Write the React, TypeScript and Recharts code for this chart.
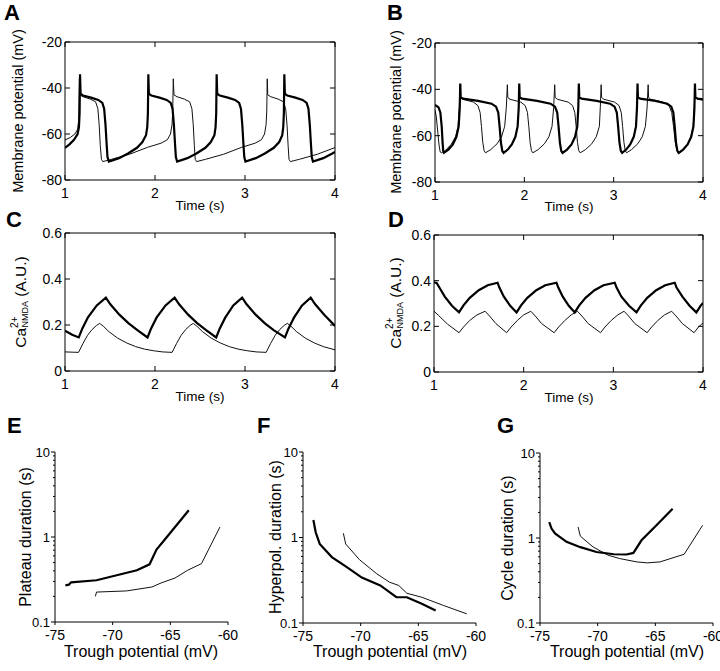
import React from 'react';
import { LineChart, Line, XAxis, YAxis } from 'recharts';

type Pt = [number, number];

const timeTicks = [1, 2, 3, 4];
const vmTicks = [-80, -60, -40, -20];
const caTicks = [0, 0.2, 0.4, 0.6];
const troughTicks = [-75, -70, -65, -60];
const durTicks = [0.1, 0.2, 0.3, 0.4, 0.5, 0.6, 0.7, 0.8, 0.9, 1, 2, 3, 4, 5, 6, 7, 8, 9, 10];
const durLabels = [0.1, 1, 10];

// A: membrane potential, thick and thin traces
const aThick: Pt[] = [
  [1.0, -66], [1.05, -64.5], [1.1, -62.5], [1.14, -60], [1.155, -57], [1.162, -51], [1.167, -34],
  [1.173, -42.5], [1.2, -43.3], [1.29, -44.2], [1.37, -45.2], [1.415, -46.5], [1.435, -49], [1.45, -56],
  [1.462, -64], [1.472, -70], [1.487, -72],
  [1.6, -70.5], [1.7, -68.5], [1.8, -66], [1.86, -63.5], [1.9, -60.5], [1.914, -57], [1.921, -51], [1.926, -34],
  [1.932, -42.5], [1.96, -43.3], [2.05, -44.2], [2.13, -45.2], [2.175, -46.5], [2.195, -49], [2.21, -56],
  [2.222, -64], [2.232, -70], [2.246, -72],
  [2.36, -70.5], [2.46, -68.5], [2.56, -66], [2.62, -63.5], [2.66, -60.5], [2.673, -57], [2.68, -51], [2.685, -34],
  [2.691, -42.5], [2.72, -43.3], [2.81, -44.2], [2.89, -45.2], [2.935, -46.5], [2.955, -49], [2.97, -56],
  [2.982, -64], [2.992, -70], [3.005, -72],
  [3.12, -70.5], [3.22, -68.5], [3.32, -66], [3.38, -63.5], [3.414, -60.5], [3.425, -57], [3.432, -51], [3.437, -34],
  [3.443, -42.5], [3.47, -43.3], [3.56, -44.2], [3.64, -45.2], [3.685, -46.5], [3.705, -49], [3.72, -56],
  [3.732, -64], [3.742, -70], [3.755, -72],
  [3.87, -70.5], [3.97, -68.5], [4.0, -67.8],
];

const aThin: Pt[] = [
  [1.0, -62.6], [1.06, -61.5], [1.11, -60], [1.14, -58], [1.152, -54], [1.16, -36],
  [1.166, -43], [1.2, -43.8], [1.28, -44.8], [1.34, -46], [1.365, -49], [1.38, -56], [1.392, -65], [1.405, -71], [1.42, -72],
  [1.517, -71], [1.717, -68.8], [1.917, -65.8], [2.067, -64], [2.137, -62.5], [2.172, -60], [2.189, -56], [2.197, -50], [2.203, -36],
  [2.211, -43], [2.245, -43.8], [2.325, -44.8], [2.385, -46], [2.41, -49], [2.425, -56], [2.437, -65], [2.447, -71], [2.462, -72],
  [2.562, -71], [2.762, -68.8], [2.962, -65.8], [3.112, -64], [3.182, -62.5], [3.217, -60], [3.234, -56], [3.242, -50], [3.247, -36],
  [3.253, -43], [3.287, -43.8], [3.367, -44.8], [3.427, -46], [3.452, -49], [3.467, -56], [3.479, -65], [3.489, -71], [3.504, -72],
  [3.604, -71], [3.804, -68.8], [4.0, -65.9],
];

// B: membrane potential, second condition
const bThick: Pt[] = [
  [1.0, -46.7], [1.04, -47.8], [1.06, -50], [1.075, -56], [1.085, -63], [1.092, -66.5], [1.1, -67.4],
  [1.15, -66], [1.2, -63.8], [1.24, -60.5], [1.265, -56], [1.277, -48], [1.283, -37.5],
  [1.288, -43.5], [1.313, -44], [1.483, -45], [1.633, -46.2], [1.683, -47.5], [1.708, -50], [1.723, -56], [1.738, -63], [1.753, -66.5], [1.768, -67.4],
  [1.815, -66], [1.86, -63.8], [1.9, -60.5], [1.925, -56], [1.937, -48], [1.943, -37.5],
  [1.948, -43.5], [1.973, -44], [2.143, -45], [2.293, -46.2], [2.343, -47.5], [2.368, -50], [2.383, -56], [2.398, -63], [2.413, -66.5], [2.428, -67.4],
  [2.478, -66], [2.528, -63.8], [2.568, -60.5], [2.593, -56], [2.604, -48], [2.61, -37.5],
  [2.615, -43.5], [2.64, -44], [2.81, -45], [2.96, -46.2], [3.01, -47.5], [3.035, -50], [3.05, -56], [3.065, -63], [3.08, -66.5], [3.095, -67.4],
  [3.14, -66], [3.185, -63.8], [3.225, -60.5], [3.25, -56], [3.261, -48], [3.267, -37.5],
  [3.272, -43.5], [3.297, -44], [3.467, -45], [3.6, -46.2], [3.645, -47.5], [3.668, -50], [3.683, -56], [3.698, -63], [3.713, -66.5], [3.728, -67.4],
  [3.778, -66], [3.828, -63.8], [3.868, -60.5], [3.893, -56], [3.904, -48], [3.91, -37.5],
  [3.915, -43.5], [3.94, -44], [4.0, -44.3],
];

const bThin: Pt[] = [
  [1.0, -48.8], [1.015, -52], [1.03, -58], [1.045, -64], [1.058, -67], [1.07, -67.4],
  [1.12, -66.3], [1.18, -63.8], [1.23, -60.5], [1.258, -56], [1.272, -48], [1.279, -38],
  [1.284, -43.5], [1.31, -44.3], [1.43, -45.5], [1.48, -47], [1.505, -50], [1.52, -56], [1.535, -63], [1.55, -66.5], [1.565, -67.4],
  [1.625, -66], [1.695, -63.5], [1.745, -60.5], [1.78, -56], [1.798, -48], [1.81, -38],
  [1.815, -43.5], [1.84, -44.3], [1.96, -45.5], [2.01, -47], [2.035, -50], [2.05, -56], [2.065, -63], [2.08, -66.5], [2.095, -67.4],
  [2.155, -66], [2.225, -63.5], [2.275, -60.5], [2.31, -56], [2.328, -48], [2.34, -38],
  [2.345, -43.5], [2.37, -44.3], [2.49, -45.5], [2.54, -47], [2.565, -50], [2.58, -56], [2.595, -63], [2.61, -66.5], [2.625, -67.4],
  [2.685, -66], [2.755, -63.5], [2.805, -60.5], [2.84, -56], [2.85, -48], [2.86, -38],
  [2.865, -43.5], [2.89, -44.3], [3.01, -45.5], [3.06, -47], [3.085, -50], [3.1, -56], [3.115, -63], [3.13, -66.5], [3.145, -67.4],
  [3.2, -66], [3.27, -63.5], [3.32, -60.5], [3.355, -56], [3.374, -48], [3.386, -38],
  [3.391, -43.5], [3.415, -44.3], [3.55, -45.5], [3.62, -47], [3.65, -50], [3.67, -56], [3.69, -63], [3.71, -66.5], [3.74, -67.4],
  [3.78, -66], [3.83, -63.5], [3.865, -60.5], [3.89, -56], [3.903, -48], [3.91, -38],
  [3.915, -43.5], [3.94, -44.3], [4.0, -44.6],
];

// C: NMDA calcium for A
const cThick: Pt[] = [
  [1.0, 0.175], [1.08, 0.158], [1.153, 0.146],
  [1.193, 0.185], [1.253, 0.232], [1.353, 0.285], [1.454, 0.319], [1.504, 0.29], [1.604, 0.245], [1.704, 0.208], [1.804, 0.178], [1.917, 0.146],
  [1.957, 0.185], [2.017, 0.232], [2.117, 0.285], [2.218, 0.319], [2.268, 0.29], [2.368, 0.245], [2.468, 0.208], [2.568, 0.178], [2.68, 0.146],
  [2.72, 0.185], [2.78, 0.232], [2.87, 0.285], [2.968, 0.319], [3.018, 0.29], [3.118, 0.245], [3.218, 0.208], [3.318, 0.178], [3.444, 0.146],
  [3.484, 0.185], [3.544, 0.232], [3.634, 0.285], [3.73, 0.319], [3.78, 0.29], [3.88, 0.245], [4.0, 0.196],
];

const cThin: Pt[] = [
  [1.0, 0.083], [1.15, 0.081], [1.2, 0.12], [1.25, 0.155], [1.3, 0.18], [1.35, 0.198], [1.385, 0.207],
  [1.425, 0.195], [1.485, 0.172], [1.585, 0.143], [1.685, 0.122], [1.785, 0.106], [1.885, 0.095], [1.985, 0.088], [2.085, 0.083], [2.19, 0.081],
  [2.24, 0.12], [2.29, 0.155], [2.34, 0.18], [2.39, 0.198], [2.425, 0.207],
  [2.465, 0.195], [2.525, 0.172], [2.625, 0.143], [2.725, 0.122], [2.825, 0.106], [2.925, 0.095], [3.025, 0.088], [3.125, 0.083], [3.235, 0.081],
  [3.285, 0.12], [3.335, 0.155], [3.385, 0.18], [3.435, 0.198], [3.47, 0.207],
  [3.51, 0.195], [3.57, 0.172], [3.67, 0.143], [3.77, 0.122], [3.87, 0.106], [4.0, 0.092],
];

// D: NMDA calcium for B
const dThick: Pt[] = [
  [1.0, 0.393], [1.03, 0.39], [1.06, 0.37], [1.12, 0.33], [1.2, 0.29], [1.279, 0.261],
  [1.329, 0.292], [1.399, 0.325], [1.499, 0.358], [1.599, 0.38], [1.709, 0.391],
  [1.729, 0.37], [1.779, 0.33], [1.85, 0.29], [1.921, 0.261],
  [1.971, 0.292], [2.041, 0.325], [2.141, 0.358], [2.241, 0.38], [2.366, 0.391],
  [2.386, 0.37], [2.436, 0.33], [2.503, 0.29], [2.57, 0.261],
  [2.62, 0.292], [2.69, 0.325], [2.79, 0.358], [2.89, 0.38], [3.016, 0.391],
  [3.036, 0.37], [3.09, 0.33], [3.175, 0.29], [3.258, 0.261],
  [3.308, 0.292], [3.378, 0.325], [3.478, 0.358], [3.578, 0.38], [3.685, 0.391],
  [3.705, 0.37], [3.77, 0.33], [3.85, 0.29], [3.926, 0.261],
  [3.976, 0.292], [4.0, 0.302],
];

const dThin: Pt[] = [
  [1.0, 0.266], [1.05, 0.248], [1.15, 0.21], [1.279, 0.172],
  [1.329, 0.197], [1.399, 0.226], [1.479, 0.25], [1.57, 0.266], [1.62, 0.245], [1.69, 0.212], [1.81, 0.172],
  [1.86, 0.197], [1.93, 0.226], [2.0, 0.25], [2.08, 0.266], [2.13, 0.245], [2.2, 0.212], [2.34, 0.172],
  [2.39, 0.197], [2.46, 0.226], [2.53, 0.25], [2.6, 0.266], [2.65, 0.245], [2.72, 0.212], [2.857, 0.172],
  [2.907, 0.197], [2.977, 0.226], [3.05, 0.25], [3.12, 0.266], [3.17, 0.245], [3.24, 0.212], [3.377, 0.172],
  [3.427, 0.197], [3.497, 0.226], [3.57, 0.25], [3.65, 0.266], [3.7, 0.245], [3.77, 0.212], [3.9, 0.172],
  [3.95, 0.197], [4.0, 0.215],
];

// E-G: durations vs trough potential
const eThick: Pt[] = [[-74.1, 0.27], [-73.8, 0.275], [-73.6, 0.293], [-71.4, 0.31], [-70, 0.345], [-67.9, 0.406], [-66.8, 0.477], [-66.2, 0.71], [-65.3, 1.0], [-63.4, 2.06]];
const eThin: Pt[] = [[-71.5, 0.2], [-71.4, 0.225], [-68.8, 0.232], [-66.6, 0.258], [-65.8, 0.288], [-64.6, 0.329], [-63.5, 0.406], [-62.3, 0.486], [-60.7, 1.31]];
const fThick: Pt[] = [[-74.1, 1.6], [-73.9, 1.15], [-73.55, 0.84], [-72.5, 0.59], [-71.2, 0.45], [-69.9, 0.34], [-68.3, 0.275], [-66.9, 0.2], [-66.0, 0.2], [-64.7, 0.168], [-63.5, 0.14]];
const fThin: Pt[] = [[-71.5, 1.12], [-71.3, 0.84], [-70.1, 0.55], [-68.6, 0.376], [-67.5, 0.3], [-66.7, 0.275], [-66.0, 0.223], [-64.7, 0.2], [-62.8, 0.16], [-60.8, 0.128]];
const gThick: Pt[] = [[-74.2, 1.54], [-74.0, 1.29], [-73.7, 1.13], [-72.7, 0.9], [-71.5, 0.78], [-70.1, 0.685], [-68.6, 0.644], [-67.5, 0.64], [-66.9, 0.667], [-66.2, 0.94], [-64.9, 1.41], [-63.5, 2.21]];
const gThin: Pt[] = [[-71.7, 1.35], [-71.5, 1.05], [-70.4, 0.785], [-69.1, 0.627], [-68.1, 0.573], [-66.6, 0.523], [-65.7, 0.51], [-64.6, 0.523], [-62.5, 0.644], [-60.9, 1.41]];

const FONT = '"Liberation Sans", Arial, Helvetica, sans-serif';
const rows = (pts: Pt[]) => pts.map(([x, y]) => ({ x, y }));

type Rect = { l: number; t: number; w: number; h: number };
type Side = 'left' | 'right' | 'top' | 'bottom';

// inward ticks, box style
const boxTick = (side: Side, labelled: boolean) => (p: any) => {
  const { x, y, payload } = p;
  const d = 5;
  let ln;
  if (side === 'left') ln = <line x1={x} y1={y} x2={x + d} y2={y} />;
  else if (side === 'right') ln = <line x1={x} y1={y} x2={x - d} y2={y} />;
  else if (side === 'bottom') ln = <line x1={x} y1={y} x2={x} y2={y - d} />;
  else ln = <line x1={x} y1={y} x2={x} y2={y + d} />;
  return (
    <g stroke="#000" strokeWidth={1}>
      {ln}
      {labelled && side === 'left' && (
        <text x={x - 3} y={y} dy="0.36em" textAnchor="end" stroke="none" fill="#000" fontSize={14} fontFamily={FONT}>
          {payload.value}
        </text>
      )}
      {labelled && side === 'bottom' && (
        <text x={x} y={y + 18} textAnchor="middle" stroke="none" fill="#000" fontSize={14} fontFamily={FONT}>
          {payload.value}
        </text>
      )}
    </g>
  );
};

// outward ticks, log panels
const logYTick = (p: any) => {
  const { x, y, payload } = p;
  const major = durLabels.includes(payload.value);
  return (
    <g>
      <line x1={x} y1={y} x2={x - (major ? 4 : 2)} y2={y} stroke="#000" />
      {major && (
        <text x={x - 5} y={y} dy="0.36em" textAnchor="end" fill="#000" fontSize={13} fontFamily={FONT}>
          {payload.value}
        </text>
      )}
    </g>
  );
};

const logXTick = (p: any) => {
  const { x, y, payload } = p;
  return (
    <g>
      <line x1={x} y1={y} x2={x} y2={y + 3} stroke="#000" />
      <text x={x} y={y + 18} textAnchor="middle" fill="#000" fontSize={14} fontFamily={FONT}>
        {payload.value}
      </text>
    </g>
  );
};

function TracePanel({ r, yDomain, yTicks, thick, thin }: { r: Rect; yDomain: [number, number]; yTicks: number[]; thick: Pt[]; thin: Pt[] }) {
  const W = r.w + 70;
  const H = r.h + 40;
  return (
    <div style={{ position: 'absolute', left: r.l - 60, top: r.t - 10, width: W, height: H }}>
      <LineChart width={W} height={H} margin={{ top: 9, right: 9, left: 0, bottom: 0 }}>
        <XAxis xAxisId="b" dataKey="x" type="number" domain={[1, 4]} ticks={timeTicks} allowDataOverflow
          height={30} tickSize={0} tickMargin={0} tickLine={false} interval={0}
          axisLine={{ stroke: '#000' }} tick={boxTick('bottom', true)} />
        <XAxis xAxisId="t" orientation="top" dataKey="x" type="number" domain={[1, 4]} ticks={timeTicks} allowDataOverflow
          height={1} tickSize={0} tickMargin={0} tickLine={false} interval={0}
          axisLine={{ stroke: '#000' }} tick={boxTick('top', false)} />
        <YAxis yAxisId="l" type="number" domain={yDomain} ticks={yTicks} allowDataOverflow
          width={60} tickSize={0} tickMargin={0} tickLine={false} interval={0}
          axisLine={{ stroke: '#000' }} tick={boxTick('left', true)} />
        <YAxis yAxisId="r" orientation="right" type="number" domain={yDomain} ticks={yTicks} allowDataOverflow
          width={1} tickSize={0} tickMargin={0} tickLine={false} interval={0}
          axisLine={{ stroke: '#000' }} tick={boxTick('right', false)} />
        <Line xAxisId="b" yAxisId="l" data={rows(thin)} dataKey="y" type="linear" dot={false}
          stroke="#111" strokeWidth={1} isAnimationActive={false} />
        <Line xAxisId="b" yAxisId="l" data={rows(thick)} dataKey="y" type="linear" dot={false}
          stroke="#000" strokeWidth={2.2} isAnimationActive={false} />
      </LineChart>
    </div>
  );
}

function LogPanel({ r, thick, thin }: { r: Rect; thick: Pt[]; thin: Pt[] }) {
  const W = r.w + 70;
  const H = r.h + 40;
  return (
    <div style={{ position: 'absolute', left: r.l - 60, top: r.t - 10, width: W, height: H }}>
      <LineChart width={W} height={H} margin={{ top: 10, right: 10, left: 0, bottom: 0 }}>
        <XAxis dataKey="x" type="number" domain={[-75, -60]} ticks={troughTicks} allowDataOverflow
          height={30} tickSize={0} tickMargin={0} tickLine={false} interval={0}
          axisLine={{ stroke: '#000' }} tick={logXTick} />
        <YAxis type="number" scale="log" domain={[0.1, 10]} ticks={durTicks} allowDataOverflow
          width={60} tickSize={0} tickMargin={0} tickLine={false} interval={0}
          axisLine={{ stroke: '#000' }} tick={logYTick} />
        <Line data={rows(thin)} dataKey="y" type="linear" dot={false}
          stroke="#111" strokeWidth={1} isAnimationActive={false} />
        <Line data={rows(thick)} dataKey="y" type="linear" dot={false}
          stroke="#000" strokeWidth={2.2} isAnimationActive={false} />
      </LineChart>
    </div>
  );
}

const VLabel = ({ x, y, size, children }: { x: number; y: number; size: number; children: React.ReactNode }) => (
  <text transform={`translate(${x},${y}) rotate(-90)`} textAnchor="middle" dominantBaseline="central" fontSize={size}>
    {children}
  </text>
);

const CaLabel = ({ x, y }: { x: number; y: number }) => (
  <VLabel x={x} y={y} size={15.5}>
    Ca<tspan fontSize={10} dy={-6}>2+</tspan>
    <tspan fontSize={9} dx={-11} dy={11}>NMDA</tspan>
    <tspan dy={-5}> (A.U.)</tspan>
  </VLabel>
);

export default function App() {
  return (
    <div style={{ position: 'absolute', left: 0, top: 0, width: 720, height: 671, background: '#fff', fontFamily: FONT }}>
      <TracePanel r={{ l: 65, t: 42, w: 270, h: 138 }} yDomain={[-80, -20]} yTicks={vmTicks} thick={aThick} thin={aThin} />
      <TracePanel r={{ l: 435, t: 43, w: 268, h: 139 }} yDomain={[-80, -20]} yTicks={vmTicks} thick={bThick} thin={bThin} />
      <TracePanel r={{ l: 65, t: 233, w: 270, h: 138 }} yDomain={[0, 0.6]} yTicks={caTicks} thick={cThick} thin={cThin} />
      <TracePanel r={{ l: 434, t: 235, w: 269, h: 137 }} yDomain={[0, 0.6]} yTicks={caTicks} thick={dThick} thin={dThin} />
      <LogPanel r={{ l: 55, t: 452, w: 173, h: 170 }} thick={eThick} thin={eThin} />
      <LogPanel r={{ l: 303, t: 452, w: 173, h: 171 }} thick={fThick} thin={fThin} />
      <LogPanel r={{ l: 540, t: 453, w: 173, h: 170 }} thick={gThick} thin={gThin} />
      <svg width={720} height={671} style={{ position: 'absolute', left: 0, top: 0, pointerEvents: 'none' }} fontFamily={FONT} fill="#000">
        <g fontSize={22} fontWeight="bold">
          <text x={4} y={20}>A</text>
          <text x={387} y={20}>B</text>
          <text x={6} y={227}>C</text>
          <text x={388} y={227}>D</text>
          <text x={7} y={433}>E</text>
          <text x={257} y={433}>F</text>
          <text x={497} y={433}>G</text>
        </g>
        <VLabel x={18} y={111} size={14.5}>Membrane potential (mV)</VLabel>
        <VLabel x={396} y={112} size={14.5}>Membrane potential (mV)</VLabel>
        <CaLabel x={20} y={302} />
        <CaLabel x={395} y={303} />
        <g fontSize={13.5} textAnchor="middle">
          <text x={200} y={210}>Time (s)</text>
          <text x={569} y={211}>Time (s)</text>
          <text x={200} y={401}>Time (s)</text>
          <text x={569} y={402}>Time (s)</text>
        </g>
        <VLabel x={25} y={537} size={16}>Plateau duration (s)</VLabel>
        <VLabel x={275} y={537} size={16}>Hyperpol. duration (s)</VLabel>
        <VLabel x={507} y={538} size={16}>Cycle duration (s)</VLabel>
        <g fontSize={16} textAnchor="middle">
          <text x={141} y={657}>Trough potential (mV)</text>
          <text x={390} y={657}>Trough potential (mV)</text>
          <text x={627} y={657}>Trough potential (mV)</text>
        </g>
      </svg>
    </div>
  );
}
